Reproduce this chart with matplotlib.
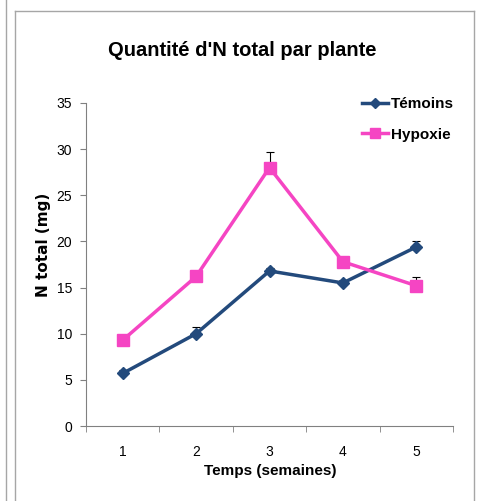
import matplotlib.pyplot as plt
from matplotlib.lines import Line2D

semaines = [1, 2, 3, 4, 5]
temoins = [5.7, 10.0, 16.8, 15.5, 19.4]
temoins_err = [0.4, 0.7, 0.3, 0.3, 0.7]
hypoxie = [9.3, 16.2, 28.0, 17.8, 15.2]
hypoxie_err = [0.3, 0.5, 1.7, 0.4, 0.9]

NAVY = "#234a7c"
PINK = "#f545c3"

plt.rcParams["font.family"] = ["Liberation Sans", "DejaVu Sans"]

fig = plt.figure(figsize=(4.83, 5.01), dpi=100)
W, H = 483, 501


def fx(px):
    return px / W


def fy(py):
    return 1 - py / H


# frame lines around the chart area (as in the spreadsheet screenshot)
frame = "#a6a6a6"
fig.add_artist(Line2D([fx(6), fx(6)], [0, 1], color=frame, lw=1.0))
fig.add_artist(Line2D([fx(15), fx(15)], [0, fy(11)], color=frame, lw=1.0))
fig.add_artist(Line2D([fx(15), fx(474)], [fy(11), fy(11)], color=frame, lw=1.0))
fig.add_artist(Line2D([fx(474), fx(474)], [0, fy(11)], color=frame, lw=1.0))

ax = fig.add_axes([fx(86), fy(426), fx(453) - fx(86), fy(103) - fy(426)])

ax.errorbar(semaines, temoins, yerr=[[0] * 5, temoins_err], color=NAVY, lw=2.5,
            marker="D", markersize=6, capsize=3, ecolor="black", elinewidth=0.8,
            capthick=0.8, zorder=3)
ax.errorbar(semaines, hypoxie, yerr=[[0] * 5, hypoxie_err], color=PINK, lw=2.5,
            marker="s", markersize=8, capsize=3, ecolor="black", elinewidth=0.8,
            capthick=0.8, zorder=3)

ax.set_xlim(0.5, 5.5)
ax.set_ylim(0, 35)
ax.set_yticks(range(0, 36, 5))
ax.set_xticks(semaines)
ax.set_xticks([0.5, 1.5, 2.5, 3.5, 4.5, 5.5], minor=True)
ax.tick_params(axis="x", which="major", length=0, pad=14, labelsize=10)
ax.tick_params(axis="x", which="minor", length=4, color="#808080", direction="out")
ax.tick_params(axis="y", length=4, color="#808080", labelsize=10, pad=6)

for s in ["top", "right"]:
    ax.spines[s].set_visible(False)
for s in ["left", "bottom"]:
    ax.spines[s].set_color("#808080")

ax.set_xlabel("Temps (semaines)", fontsize=11, fontweight="bold")
ax.xaxis.set_label_coords((270 - 86) / 367, -(464 - 426) / 323)
ax.set_ylabel("N total (mg)", fontsize=11, fontweight="bold", family="DejaVu Sans")
ax.yaxis.set_label_coords(-(86 - 51) / 367, (426 - 245) / 323)

fig.text(fx(242), fy(51), "Quantité d'N total par plante", ha="center", va="center",
         fontsize=14.5, fontweight="bold")

handles = [
    Line2D([], [], color=NAVY, lw=2.5, marker="D", markersize=5),
    Line2D([], [], color=PINK, lw=2.5, marker="s", markersize=7),
]
fig.legend(handles, ["Témoins", "Hypoxie"], loc="upper left",
           bbox_to_anchor=(fx(362), fy(97)), frameon=False, borderpad=0,
           borderaxespad=0, prop={"weight": "bold", "size": 11},
           handlelength=1.7, handletextpad=0.2, labelspacing=1.1)

fig.savefig("out.png", dpi=100)
